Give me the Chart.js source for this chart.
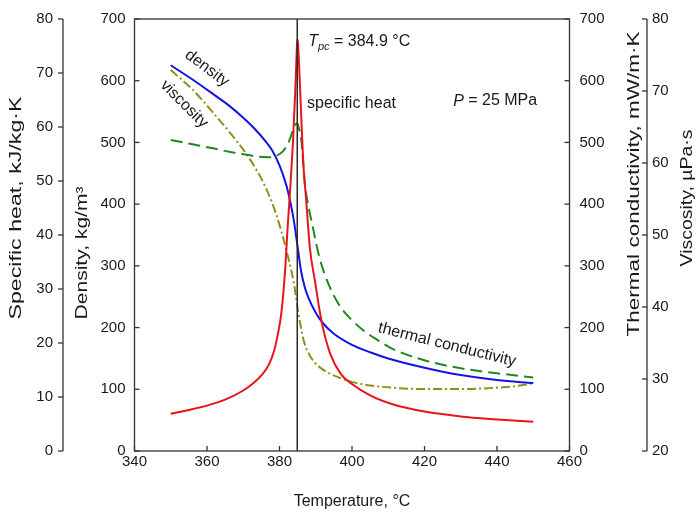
<!DOCTYPE html>
<html>
<head>
<meta charset="utf-8">
<script src="https://cdn.jsdelivr.net/npm/chart.js@4/dist/chart.umd.min.js"></script>
<style>
  html, body { margin: 0; padding: 0; background: #fff; }
  canvas { display: block; }
</style>
</head>
<body>
<canvas id="chart" width="696" height="514"></canvas>
<script>
// pseudocritical temperature, 25 MPa
const TPC = 384.9;

// density, kg/m3
const densityT = [350, 356, 362, 366, 370, 373, 376, 378, 380, 381, 382, 383, 384, 384.9, 386, 387, 388, 390, 392, 395, 400, 405, 410, 420, 430, 440, 450];
const density  = [625, 602, 577, 560, 540, 523, 503, 487, 463, 447, 428, 403, 372, 335, 290, 265, 248, 224, 207, 190, 172, 160, 150, 135, 123, 115, 110];

// thermal conductivity, mW/m K
const condT = [350, 356, 362, 366, 370, 374, 377, 379, 381, 382.5, 383.5, 384.3, 384.9, 385.4, 386, 386.5, 387, 388, 389, 391, 394, 397, 400, 403, 407, 411, 420, 430, 440, 450];
const conductivity = [504, 497, 490, 485, 481, 477, 476, 478, 486, 500, 516, 528, 531, 522, 505, 470, 432, 396, 368, 314, 264, 232, 212, 196, 180, 166, 147, 134, 126, 119];

// specific heat, kJ/kg K
const cpT = [350, 355, 360, 365, 370, 373, 375, 377, 378.5, 379.5, 380.5, 381.5, 382.3, 383, 383.7, 384.3, 384.7, 384.9, 385.1, 385.5, 386, 386.6, 387.3, 388.4, 389.8, 391.6, 394, 397, 400, 405, 411, 420, 430, 440, 450];
const specificHeat = [6.9, 7.6, 8.4, 9.5, 11.2, 12.7, 14.0, 15.9, 18.5, 21.5, 25.5, 33, 42, 49, 57, 66, 73, 76.3, 75.5, 70, 62, 53, 47, 37.5, 31.4, 24, 18, 14.2, 12.4, 10.3, 8.7, 7.3, 6.4, 5.85, 5.4];

// viscosity, uPa s
const viscT = [350, 356, 362, 367, 372, 376, 379, 382, 384, 385.2, 386.6, 388, 389.5, 392, 394, 397, 400, 405, 411, 420, 430, 440, 445, 450];
const viscosity = [72.9, 70.2, 66.8, 63.8, 60.4, 56.8, 53.0, 47.7, 43.2, 39.2, 35.5, 33.6, 32.4, 31.3, 30.7, 30.1, 29.6, 29.1, 28.8, 28.6, 28.6, 28.8, 29.0, 29.4];

// tick values
const tempTicks = [340, 360, 380, 400, 420, 440, 460];
const cpTicks = [0, 10, 20, 30, 40, 50, 60, 70, 80];
const densTicks = [0, 100, 200, 300, 400, 500, 600, 700];
const condTicks = [0, 100, 200, 300, 400, 500, 600, 700];
const viscTicks = [20, 30, 40, 50, 60, 70, 80];

const FONT = "'Liberation Sans', Arial, sans-serif";
const TXT = '#1a1a1a';
const AXIS = '#333';

const pts = (xs, ys) => xs.map((x, i) => ({ x: x, y: ys[i] }));
const setTicks = list => s => { s.ticks = list.map(v => ({ value: v })); };
const fixW = w => s => { s.width = w; };

const axisTitles = [
  { text: 'Specific heat, kJ/kg\u00B7K', x: 17, y: 208, len: 223 },
  { text: 'Density, kg/m\u00B3', x: 83, y: 253, len: 133 },
  { text: 'Thermal conductivity, mW/m\u00B7K', x: 635, y: 184, len: 305 },
  { text: 'Viscosity, \u00B5Pa\u00B7s', x: 688, y: 198, len: 137 }
];

// labels placed in data units (temperature, density axis)
const notes = [
  { parts: [{ t: 'T', it: 1 }, { t: 'pc', it: 1, sub: 1 }, { t: ' = 384.9 \u00B0C' }], x: 387.9, y: 663, rot: 0, align: 'left' },
  { parts: [{ t: 'specific heat' }], x: 387.6, y: 563, rot: 0, align: 'left' },
  { parts: [{ t: 'P', it: 1 }, { t: ' = 25 MPa' }], x: 427.9, y: 567, rot: 0, align: 'left' },
  { parts: [{ t: 'density' }], x: 360, y: 620, rot: 37, align: 'center' },
  { parts: [{ t: 'viscosity' }], x: 353.7, y: 562, rot: 45, align: 'center' },
  { parts: [{ t: 'thermal conductivity' }], x: 426.2, y: 172, rot: 14, align: 'center' }
];

const decor = {
  id: 'decor',
  afterDraw(chart) {
    const { ctx, chartArea: a, scales: s } = chart;
    ctx.save();
    ctx.strokeStyle = AXIS;
    ctx.lineWidth = 1.3;
    const seg = (x1, y1, x2, y2) => { ctx.beginPath(); ctx.moveTo(x1, y1); ctx.lineTo(x2, y2); ctx.stroke(); };
    ctx.strokeRect(a.left, a.top, a.right - a.left, a.bottom - a.top);
    const cpX = s.yCp.right, viX = s.yVisc.left;
    seg(cpX, a.top, cpX, a.bottom);
    seg(viX, a.top, viX, a.bottom);
    s.x.ticks.forEach(t => { const p = s.x.getPixelForValue(t.value); seg(p, a.bottom, p, a.bottom - 5); });
    s.yDen.ticks.forEach(t => { const p = s.yDen.getPixelForValue(t.value); seg(a.left, p, a.left + 5, p); });
    s.yTc.ticks.forEach(t => { const p = s.yTc.getPixelForValue(t.value); seg(a.right, p, a.right - 5, p); });
    s.yCp.ticks.forEach(t => { const p = s.yCp.getPixelForValue(t.value); seg(cpX, p, cpX - 5, p); });
    s.yVisc.ticks.forEach(t => { const p = s.yVisc.getPixelForValue(t.value); seg(viX, p, viX - 5, p); });

    ctx.fillStyle = TXT;
    ctx.textBaseline = 'middle';

    // y axis titles, read bottom to top
    axisTitles.forEach(tt => {
      ctx.save();
      ctx.font = '16px ' + FONT;
      ctx.translate(tt.x, tt.y);
      ctx.rotate(-Math.PI / 2);
      const w = ctx.measureText(tt.text).width;
      ctx.scale(tt.len / w, 1);
      ctx.textAlign = 'center';
      ctx.fillText(tt.text, 0, 0);
      ctx.restore();
    });

    // in-plot notes
    notes.forEach(n => {
      ctx.save();
      ctx.translate(s.x.getPixelForValue(n.x), s.yDen.getPixelForValue(n.y));
      ctx.rotate(n.rot * Math.PI / 180);
      const fontOf = p => (p.it ? 'italic ' : '') + (p.sub ? '11px ' : '16px ') + FONT;
      let total = 0;
      n.parts.forEach(p => { ctx.font = fontOf(p); total += ctx.measureText(p.t).width; });
      let x = n.align === 'center' ? -total / 2 : 0;
      ctx.textAlign = 'left';
      n.parts.forEach(p => {
        ctx.font = fontOf(p);
        ctx.fillText(p.t, x, p.sub ? 5 : 0);
        x += ctx.measureText(p.t).width;
      });
      ctx.restore();
    });
    ctx.restore();
  }
};

const tickFont = { family: FONT, size: 15 };

new Chart(document.getElementById('chart'), {
  type: 'line',
  data: {
    datasets: [
      {
        label: 'Tpc',
        data: pts([TPC, TPC], [0, 700]),
        yAxisID: 'yDen',
        borderColor: '#2a2a2a',
        borderWidth: 1.5
      },
      {
        label: 'specific heat',
        data: pts(cpT, specificHeat),
        yAxisID: 'yCp',
        borderColor: '#e8141c',
        borderWidth: 2,
        cubicInterpolationMode: 'monotone'
      },
      {
        label: 'density',
        data: pts(densityT, density),
        yAxisID: 'yDen',
        borderColor: '#1414e6',
        borderWidth: 2,
        cubicInterpolationMode: 'monotone'
      },
      {
        label: 'thermal conductivity',
        data: pts(condT, conductivity),
        yAxisID: 'yTc',
        borderColor: '#1e8a1e',
        borderWidth: 2,
        borderDash: [12, 6],
        cubicInterpolationMode: 'monotone'
      },
      {
        label: 'viscosity',
        data: pts(viscT, viscosity),
        yAxisID: 'yVisc',
        borderColor: '#8f8f1c',
        borderWidth: 2,
        borderDash: [9, 3, 2, 3],
        cubicInterpolationMode: 'monotone'
      }
    ]
  },
  options: {
    responsive: false,
    animation: false,
    devicePixelRatio: 1,
    layout: { padding: { top: 15, left: 0, right: 0, bottom: 0 } },
    elements: { point: { radius: 0 } },
    plugins: { legend: { display: false }, tooltip: { enabled: false } },
    scales: {
      x: {
        type: 'linear', min: 340, max: 460,
        afterBuildTicks: setTicks(tempTicks),
        afterFit: s => { s.height = 63; },
        grid: { display: false, drawTicks: false },
        border: { display: false },
        ticks: { font: tickFont, color: TXT, padding: 2, maxRotation: 0 },
        title: { display: true, text: 'Temperature, \u00B0C', color: TXT, font: { family: FONT, size: 16 }, padding: 3 }
      },
      yCp: {
        type: 'linear', position: 'left', weight: 1, min: 0, max: 80,
        afterBuildTicks: setTicks(cpTicks),
        afterFit: fixW(63),
        grid: { display: false, drawTicks: false },
        border: { display: false },
        ticks: { font: tickFont, color: TXT, padding: 10 }
      },
      yDen: {
        type: 'linear', position: 'left', weight: 0, min: 0, max: 700,
        afterBuildTicks: setTicks(densTicks),
        afterFit: fixW(71.5),
        grid: { display: false, drawTicks: false },
        border: { display: false },
        ticks: { font: tickFont, color: TXT, padding: 9 }
      },
      yTc: {
        type: 'linear', position: 'right', weight: 0, min: 0, max: 700,
        afterBuildTicks: setTicks(condTicks),
        afterFit: fixW(77.5),
        grid: { display: false, drawTicks: false },
        border: { display: false },
        ticks: { font: tickFont, color: TXT, padding: 10 }
      },
      yVisc: {
        type: 'linear', position: 'right', weight: 1, min: 20, max: 80,
        afterBuildTicks: setTicks(viscTicks),
        afterFit: fixW(49),
        grid: { display: false, drawTicks: false },
        border: { display: false },
        ticks: { font: tickFont, color: TXT, padding: 5 }
      }
    }
  },
  plugins: [decor]
});
</script>
</body>
</html>
